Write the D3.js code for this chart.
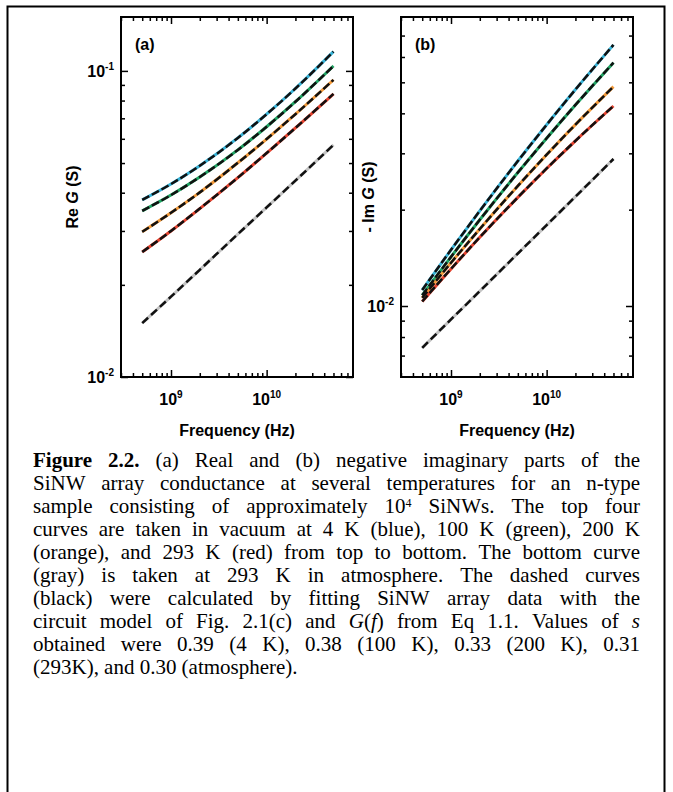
<!DOCTYPE html>
<html>
<head>
<meta charset="utf-8">
<script src="https://cdn.jsdelivr.net/npm/d3@7"></script>
<style>
body { margin: 0; background: #fff; }
</style>
</head>
<body>
<svg id="fig" width="673" height="792"></svg>
<script>
const freqs = [5e8, 1e9, 2e9, 5e9, 1e10, 2e10, 5e10];

// (a) Re G (S)
const reBlue   = [0.0379, 0.0427, 0.0490, 0.0604, 0.0722, 0.0876, 0.1156];
const reGreen  = [0.0349, 0.0393, 0.0450, 0.0552, 0.0657, 0.0793, 0.1038];
const reOrange = [0.0298, 0.0344, 0.0401, 0.0501, 0.0599, 0.0722, 0.0935];
const reRed    = [0.0256, 0.0300, 0.0355, 0.0448, 0.0539, 0.0651, 0.0841];
const reGray   = [0.0150, 0.0183, 0.0224, 0.0293, 0.0358, 0.0438, 0.0573];

// (b) -Im G (S)
const imBlue   = [0.01122, 0.01498, 0.01983, 0.02838, 0.03684, 0.04746, 0.06546];
const imGreen  = [0.01081, 0.01424, 0.01860, 0.02612, 0.03345, 0.04249, 0.05759];
const imOrange = [0.01060, 0.01365, 0.01741, 0.02373, 0.02971, 0.03688, 0.04846];
const imRed    = [0.01033, 0.01306, 0.01640, 0.02185, 0.02690, 0.03283, 0.04217];
const imGray   = [0.0074, 0.00908, 0.01113, 0.01459, 0.01790, 0.02196, 0.02880];

// ticks
const xMajor = [1e9, 1e10];
const xMinor = [3e8, 4e8, 5e8, 6e8, 7e8, 8e8, 9e8, 2e9, 3e9, 4e9, 5e9, 6e9, 7e9, 8e9, 9e9,
  2e10, 3e10, 4e10, 5e10, 6e10, 7e10];
const reMajor = [0.01, 0.1];
const reMinor = [0.02, 0.03, 0.04, 0.05, 0.06, 0.07, 0.08, 0.09];
const imMajor = [0.01];
const imMinor = [0.007, 0.008, 0.009, 0.02, 0.03, 0.04, 0.05, 0.06, 0.07];

const captionLines = [
  [[["Figure", "b"]], [["2.2.", "b"]], "(a)", "Real", "and", "(b)", "negative", "imaginary", "parts", "of", "the"],
  ["SiNW", "array", "conductance", "at", "several", "temperatures", "for", "an", "n-type"],
  ["sample", "consisting", "of", "approximately", [["10"], ["4", "sup"]], "SiNWs.", "The", "top", "four"],
  ["curves", "are", "taken", "in", "vacuum", "at", "4", "K", "(blue),", "100", "K", "(green),", "200", "K"],
  ["(orange),", "and", "293", "K", "(red)", "from", "top", "to", "bottom.", "The", "bottom", "curve"],
  ["(gray)", "is", "taken", "at", "293", "K", "in", "atmosphere.", "The", "dashed", "curves"],
  ["(black)", "were", "calculated", "by", "fitting", "SiNW", "array", "data", "with", "the"],
  ["circuit", "model", "of", "Fig.", "2.1(c)", "and", [["G", "i"], ["("], ["f", "i"], [")"]], "from", "Eq", "1.1.", "Values", "of", [["s", "i"]]],
  ["obtained", "were", "0.39", "(4", "K),", "0.38", "(100", "K),", "0.33", "(200", "K),", "0.31"],
  ["(293K),", "and", "0.30", "(atmosphere)."]
];

const svg = d3.select("#fig");
const sans = "'Liberation Sans', Arial, Helvetica, sans-serif";

svg.append("rect")
  .attr("x", 7.5).attr("y", 6.5)
  .attr("width", 657).attr("height", 800)
  .attr("fill", "none").attr("stroke", "#000").attr("stroke-width", 2);

function sciLabel(g, x, y, exp, anchor) {
  const t = g.append("text")
    .attr("x", x).attr("y", y)
    .attr("text-anchor", anchor)
    .attr("font-family", sans).attr("font-weight", "bold").attr("font-size", 16);
  t.append("tspan").text("10");
  t.append("tspan").attr("dy", -7).attr("font-size", 10).text(exp);
}

function drawPanel(p) {
  const x = d3.scaleLog().domain([3e8, 8e10]).range([p.left, p.right]);
  const y = d3.scaleLog().domain(p.yDomain).range([p.bottom, p.top]);
  const g = svg.append("g");

  const line = d3.line()
    .x((d, i) => x(freqs[i]))
    .y(d => y(d))
    .curve(d3.curveMonotoneX);

  // measured curves (colour) then fits (black dashes)
  g.selectAll(".data")
    .data(p.series)
    .join("path")
    .attr("d", d => line(d.vals))
    .attr("fill", "none")
    .attr("stroke", d => d.color)
    .attr("stroke-width", 3);

  g.selectAll(".fit")
    .data(p.series)
    .join("path")
    .attr("d", d => line(d.vals))
    .attr("fill", "none")
    .attr("stroke", "#111")
    .attr("stroke-width", 2.5)
    .attr("stroke-dasharray", d => d.gray ? "8,4" : "8,3");

  // ticks on all four sides, pointing inward
  const axes = [
    [d3.axisBottom(x), p.bottom, "x"],
    [d3.axisTop(x), p.top, "x"],
    [d3.axisLeft(y), p.left, "y"],
    [d3.axisRight(y), p.right, "y"]
  ];
  axes.forEach(([ax, pos, dim]) => {
    const major = dim === "x" ? xMajor : p.yMajor;
    const minor = dim === "x" ? xMinor : p.yMinor;
    [[major, 7], [minor, 4]].forEach(([vals, len]) => {
      const a = g.append("g")
        .attr("transform", dim === "x" ? `translate(0,${pos})` : `translate(${pos},0)`)
        .call(ax.tickValues(vals).tickSize(-len).tickSizeOuter(0).tickFormat(""));
      a.select(".domain").remove();
      a.selectAll(".tick line").attr("stroke", "#000").attr("stroke-width", 1.5);
    });
  });

  g.append("rect")
    .attr("x", p.left).attr("y", p.top)
    .attr("width", p.right - p.left).attr("height", p.bottom - p.top)
    .attr("fill", "none").attr("stroke", "#000").attr("stroke-width", 2);

  // tick labels
  sciLabel(g, x(1e9), 405, "9", "middle");
  sciLabel(g, x(1e10), 405, "10", "middle");
  p.yLabels.forEach(v => sciLabel(g, p.left - 7, y(v) + 6, v === 0.1 ? "-1" : "-2", "end"));

  g.append("text")
    .attr("x", (p.left + p.right) / 2).attr("y", 436)
    .attr("text-anchor", "middle")
    .attr("font-family", sans).attr("font-weight", "bold").attr("font-size", 16)
    .text("Frequency (Hz)");

  g.append("text")
    .attr("x", p.left + 14).attr("y", 50)
    .attr("font-family", sans).attr("font-weight", "bold").attr("font-size", 16)
    .text(p.label);

  const yt = g.append("text")
    .attr("transform", `translate(${p.titleX},${(p.top + p.bottom) / 2}) rotate(-90)`)
    .attr("text-anchor", "middle")
    .attr("font-family", sans).attr("font-weight", "bold").attr("font-size", 16);
  yt.append("tspan").text(p.yTitle);
  yt.append("tspan").attr("font-style", "italic").text("G");
  yt.append("tspan").text(" (S)");
}

drawPanel({
  left: 121, right: 353, top: 17, bottom: 377,
  yDomain: [0.01, 0.15], yMajor: reMajor, yMinor: reMinor, yLabels: [0.1, 0.01],
  label: "(a)", yTitle: "Re ", titleX: 78,
  series: [
    { vals: reBlue, color: "#38b4d8" },
    { vals: reGreen, color: "#1fa463" },
    { vals: reOrange, color: "#f39a3a" },
    { vals: reRed, color: "#e5432f" },
    { vals: reGray, color: "#c4c4c4", gray: true }
  ]
});

drawPanel({
  left: 401, right: 633, top: 17, bottom: 377,
  yDomain: [0.006, 0.08], yMajor: imMajor, yMinor: imMinor, yLabels: [0.01],
  label: "(b)", yTitle: "- Im ", titleX: 374,
  series: [
    { vals: imBlue, color: "#38b4d8" },
    { vals: imGreen, color: "#1fa463" },
    { vals: imOrange, color: "#f39a3a" },
    { vals: imRed, color: "#e5432f" },
    { vals: imGray, color: "#c4c4c4", gray: true }
  ]
});

// caption, justified word by word
const capLeft = 33, capRight = 640, capTop = 467, capStep = 23;
const capG = svg.append("g")
  .attr("font-family", "'Liberation Serif', 'Times New Roman', serif")
  .attr("font-size", 21);

captionLines.forEach((words, li) => {
  const yb = capTop + li * capStep;
  const texts = words.map(w => {
    const runs = typeof w === "string" ? [[w]] : w;
    const t = capG.append("text").attr("y", yb);
    runs.forEach(r => {
      const ts = t.append("tspan").text(r[0]);
      if (r[1] === "b") ts.attr("font-weight", "bold");
      if (r[1] === "i") ts.attr("font-style", "italic");
      if (r[1] === "sup") ts.attr("font-size", 12).attr("dy", -6);
    });
    return t;
  });
  const widths = texts.map(t => t.node().getComputedTextLength());
  const total = d3.sum(widths);
  const last = li === captionLines.length - 1;
  const gap = last ? 5.2 : (capRight - capLeft - total) / (words.length - 1);
  let xp = capLeft;
  texts.forEach((t, i) => {
    t.attr("x", xp);
    xp += widths[i] + gap;
  });
});
</script>
</body>
</html>
